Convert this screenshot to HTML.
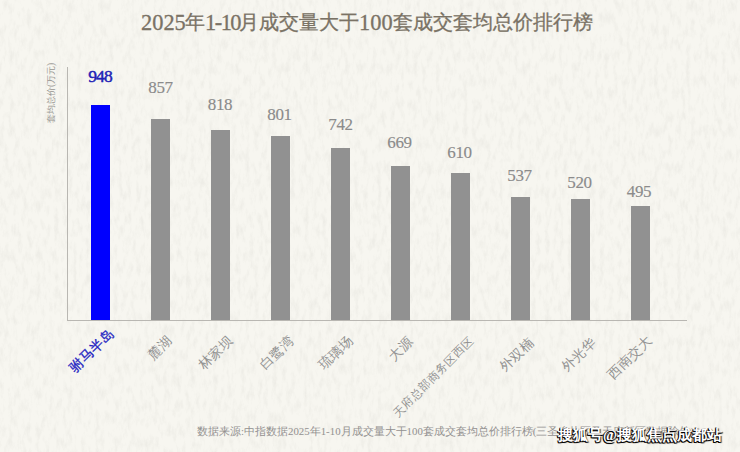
<!DOCTYPE html>
<html><head><meta charset="utf-8">
<style>
html,body{margin:0;padding:0;}
body{width:740px;height:452px;position:relative;overflow:hidden;background:#f7f6f0;font-family:"Liberation Serif",serif;}
.t{position:absolute;white-space:nowrap;line-height:1;}
#title span{position:absolute;white-space:nowrap;line-height:1;color:#7a7265;-webkit-text-stroke:0.3px #7a7265;}
#title .dg{font-size:22.4px;top:12.3px;}
#title .cj{font-size:19.9px;top:12.5px;}
.ax{position:absolute;background:#b9b7b2;}
.bar{position:absolute;width:19px;background:#919191;}
.val{position:absolute;width:60px;text-align:center;font-size:17px;letter-spacing:-0.4px;color:#8b8b8b;line-height:1;-webkit-text-stroke:0.15px #8b8b8b;}
.lab{position:absolute;font-size:13.5px;color:#929292;white-space:nowrap;transform-origin:100% 0;transform:rotate(-45deg);line-height:1;}
#ylab{left:46.5px;top:123px;font-size:9.4px;color:#989692;transform-origin:0 0;transform:rotate(-90deg);}
#src{left:197px;top:425.8px;font-size:10.85px;color:#939190;}
#wm{left:558px;top:427.5px;font-size:15px;font-weight:bold;color:#fff;text-shadow:-1px 1px 0 #000,0 1px 0 #111,-1px 0 0 #222,1px 1px 1px #333;}
</style></head><body>
<svg width="740" height="452" style="position:absolute;left:0;top:0">
<filter id="f" x="0" y="0" width="100%" height="100%">
<feTurbulence type="fractalNoise" baseFrequency="0.22 0.08" numOctaves="4" seed="11"/>
<feColorMatrix type="matrix" values="0 0 0 0 0.40  0 0 0 0 0.39  0 0 0 0 0.35  -2.6 0 0 0 1.45"/>
</filter>
<rect width="740" height="452" filter="url(#f)" opacity="0.1"/>
</svg>
<div id="title"><span class="dg" style="left:141px">2025</span><span class="cj" style="left:185px">年</span><span class="dg" style="left:205px;letter-spacing:-1.5px">1-10</span><span class="cj" style="left:238.5px">月成交量大于</span><span class="dg" style="left:359px">100</span><span class="cj" style="left:392.5px">套成交套均总价排行榜</span></div>
<div class="t" id="ylab">套均总价(万元)</div>
<div class="ax" style="left:67px;top:67px;width:1px;height:254px"></div>
<div class="ax" style="left:67px;top:320px;width:620px;height:1px"></div>

<div class="bar" style="left:91px;top:105px;height:215px;background:#0000fe"></div>
<div class="bar" style="left:151px;top:119px;height:201px"></div>
<div class="bar" style="left:211px;top:130px;height:190px"></div>
<div class="bar" style="left:271px;top:135.5px;height:184.5px"></div>
<div class="bar" style="left:331px;top:148px;height:172px"></div>
<div class="bar" style="left:391px;top:166px;height:154px"></div>
<div class="bar" style="left:451px;top:173px;height:147px"></div>
<div class="bar" style="left:511px;top:197px;height:123px"></div>
<div class="bar" style="left:570.5px;top:199px;height:121px"></div>
<div class="bar" style="left:631px;top:206px;height:114px"></div>

<div class="val" style="left:70px;top:67.5px;color:#2222b6;-webkit-text-stroke:0.45px #2222b6;letter-spacing:-0.9px;font-size:17.5px">948</div>
<div class="val" style="left:130.5px;top:79px">857</div>
<div class="val" style="left:190px;top:95.5px">818</div>
<div class="val" style="left:249.5px;top:105.5px">801</div>
<div class="val" style="left:310.5px;top:115.5px">742</div>
<div class="val" style="left:369.5px;top:133.5px">669</div>
<div class="val" style="left:429.5px;top:143.5px">610</div>
<div class="val" style="left:489.5px;top:166.5px">537</div>
<div class="val" style="left:549.5px;top:173.5px">520</div>
<div class="val" style="left:609px;top:182.5px">495</div>

<div class="lab" style="right:633px;top:326px;color:#2323c2;-webkit-text-stroke:0.3px #2323c2">驸马半岛</div>
<div class="lab" style="right:575px;top:333px">麓湖</div>
<div class="lab" style="right:514.5px;top:332.5px">林家坝</div>
<div class="lab" style="right:453.5px;top:332.5px">白鹭湾</div>
<div class="lab" style="right:394.5px;top:333px">琉璃场</div>
<div class="lab" style="right:334px;top:334px">大源</div>
<div class="lab" style="right:272px;top:334.5px;font-size:11.5px">天府总部商务区西区</div>
<div class="lab" style="right:213px;top:335px">外双楠</div>
<div class="lab" style="right:151.5px;top:335px">外光华</div>
<div class="lab" style="right:95.5px;top:333px">西南交大</div>

<div class="t" id="src">数据来源:中指数据2025年1-10月成交量大于100套成交套均总价排行榜(三圣乡片区及天府新区数据除外)</div>
<div class="t" id="wm">搜狐号@搜狐焦点成都站</div>
</body></html>
